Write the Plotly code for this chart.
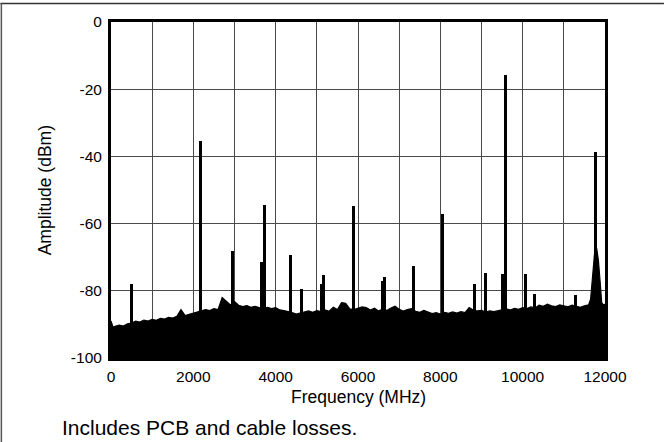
import plotly.graph_objects as go

# Noise floor (frequency MHz, level dBm)
floor_f = [0, 50, 100, 200, 300, 400, 500, 600, 700, 800, 900,
           1000, 1100, 1200, 1300, 1400, 1500, 1600, 1700, 1800, 1900,
           2000, 2100, 2200, 2300, 2400, 2500, 2600, 2700, 2800, 2900,
           3000, 3100, 3200, 3300, 3400, 3500, 3600, 3700, 3800, 3900,
           4000, 4100, 4200, 4300, 4400, 4500, 4600, 4700, 4800, 4900,
           5000, 5100, 5200, 5300, 5400, 5500, 5600, 5700, 5800, 5900,
           6000, 6100, 6200, 6300, 6400, 6500, 6600, 6700, 6800, 6900,
           7000, 7100, 7200, 7300, 7400, 7500, 7600, 7700, 7800, 7900,
           8000, 8100, 8200, 8300, 8400, 8500, 8600, 8700, 8800, 8900,
           9000, 9100, 9200, 9300, 9400, 9500, 9600, 9700, 9800, 9900,
           10000, 10100, 10200, 10300, 10400, 10500, 10600, 10700, 10800, 10900,
           11000, 11100, 11200, 11300, 11400, 11500, 11600, 11650, 11690, 11730,
           11765, 11800, 11840, 11880, 11920, 11960, 12000]
floor_db = [-89.0, -90.8, -90.6, -90.2, -90.5, -89.8, -89.6, -89.0, -89.3, -88.7, -89.0,
            -88.5, -88.8, -88.2, -88.4, -87.9, -88.1, -87.6, -85.6, -87.4, -87.0,
            -86.6, -86.3, -86.0, -85.6, -85.9, -85.3, -85.6, -82.0, -83.1, -84.2,
            -83.2, -84.3, -84.7, -84.4, -84.9, -84.6, -85.0, -85.3, -84.9, -85.3,
            -85.0, -85.7, -85.9, -86.1, -86.5, -86.9, -86.6, -86.2, -86.0, -86.4,
            -85.9, -86.2, -85.7, -86.1, -84.9, -85.6, -83.5, -83.7, -85.4, -85.6,
            -85.3, -84.8, -85.0, -85.7, -85.2, -86.0, -85.4, -85.9, -85.1, -84.6,
            -85.5, -86.0, -85.6, -85.3, -86.1, -86.4, -85.8, -86.3, -86.8, -86.5,
            -86.9, -86.4, -86.7, -86.3, -86.6, -86.2, -86.5, -85.0, -85.7, -86.0,
            -85.8, -86.3, -86.0, -86.2, -85.9, -85.6, -85.4, -85.7, -85.2, -85.5,
            -85.0, -85.3, -84.8, -85.1, -84.3, -84.6, -84.0, -84.5, -84.7, -84.2,
            -84.5, -84.8, -84.3, -84.6, -84.9, -84.5, -84.2, -82.5, -76.0, -69.5,
            -66.2, -67.5, -71.0, -77.0, -83.5, -84.2, -84.0]

# Spurs (frequency MHz, level dBm)
spur_f = [500, 2180, 2940, 3648, 3720, 4357, 4625, 5120, 5170, 5890,
          6600, 6640, 7350, 8060, 8820, 9090, 9520, 9586, 10070, 10290,
          11280, 11765]
spur_db = [-78.0, -35.3, -68.2, -71.5, -54.5, -69.4, -79.5, -78.1, -75.4, -54.9,
           -77.1, -75.8, -72.6, -57.0, -78.1, -74.8, -75.0, -15.9, -75.0, -81.0,
           -81.3, -38.7]

x_ticks = [0, 2000, 4000, 6000, 8000, 10000, 12000]
y_ticks = [0, -20, -40, -60, -80, -100]
BASE = -100

FONT = "Liberation Sans, Arial, sans-serif"

fig = go.Figure()
fig.add_trace(go.Scatter(x=[0, 12000], y=[BASE, BASE], mode="lines",
                         line=dict(color="black", width=0), showlegend=False,
                         hoverinfo="skip"))
fig.add_trace(go.Scatter(x=floor_f, y=floor_db, mode="lines", fill="tonexty",
                         fillcolor="black", line=dict(color="black", width=1.2),
                         showlegend=False))
fig.add_trace(go.Bar(x=spur_f, y=[d - BASE for d in spur_db], base=BASE,
                     width=72, marker=dict(color="black", line=dict(width=0)),
                     showlegend=False))

L, R, T, B = 110.7, 59, 21.7, 84
W, H = 664, 442
pw, ph = W - L - R, H - T - B

def px_x(p):
    return (p - L) / pw

def px_y(p):
    return (H - B - p) / ph

fig.update_layout(
    width=W, height=H,
    margin=dict(l=L, r=R, t=T, b=B, pad=0),
    paper_bgcolor="white", plot_bgcolor="white",
    font=dict(family=FONT, color="black", size=15),
    bargap=0,
    xaxis=dict(range=[0, 12000], tickvals=x_ticks, ticktext=[str(v) for v in x_ticks],
               showgrid=True, gridcolor="#4a4a4a", gridwidth=1.2,
               minor=dict(dtick=1000, showgrid=True, gridcolor="#4a4a4a", gridwidth=1.2),
               showline=True, linecolor="black", linewidth=3, mirror=True,
               zeroline=False, ticks="", ticklabelstandoff=2,
               tickfont=dict(size=15.5), fixedrange=True),
    yaxis=dict(range=[-100, 0], tickvals=y_ticks, ticktext=[str(v) for v in y_ticks],
               showgrid=True, gridcolor="#4a4a4a", gridwidth=1.2,
               showline=True, linecolor="black", linewidth=3, mirror=True,
               zeroline=False, ticks="", ticklabelstandoff=3,
               tickfont=dict(size=15.5), fixedrange=True),
    annotations=[
        dict(text="Frequency (MHz)", xref="paper", yref="paper", x=0.5, y=px_y(397),
             xanchor="center", yanchor="middle", showarrow=False, font=dict(size=17.5)),
        dict(text="Amplitude (dBm)", xref="paper", yref="paper", x=px_x(45), y=0.5,
             textangle=-90, xanchor="center", yanchor="middle", showarrow=False,
             font=dict(size=17.5)),
        dict(text="Includes PCB and cable losses.", xref="paper", yref="paper",
             x=px_x(60), y=px_y(428), xanchor="left", yanchor="middle",
             showarrow=False, font=dict(size=21)),
    ],
    shapes=[
        dict(type="line", xref="paper", yref="paper", x0=px_x(0), x1=px_x(664),
             y0=px_y(3.3), y1=px_y(3.3), line=dict(color="#333333", width=1.5)),
        dict(type="line", xref="paper", yref="paper", x0=px_x(1), x1=px_x(1),
             y0=px_y(3.3), y1=px_y(442), line=dict(color="#555555", width=1.5)),
    ],
)

fig.write_html("out.html", config={"displayModeBar": False},
               post_script="document.body.style.margin='0';document.body.style.overflow='hidden';")
